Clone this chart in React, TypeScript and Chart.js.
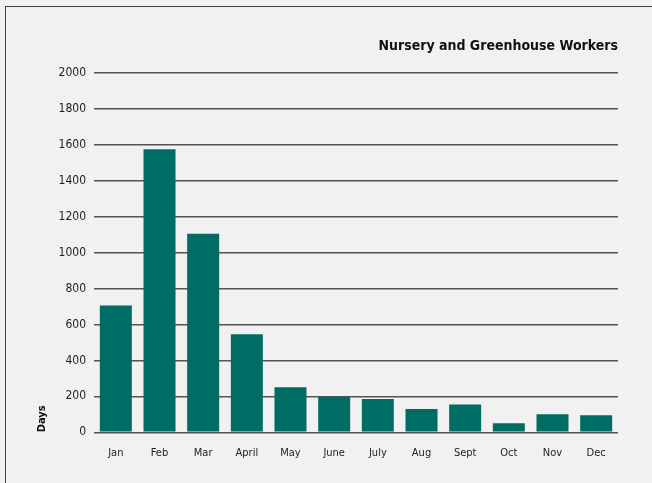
import React, { useEffect, useRef } from "react";
import { Chart, registerables } from "chart.js";

Chart.register(...registerables);

const months = ["Jan", "Feb", "Mar", "April", "May", "June", "July", "Aug", "Sept", "Oct", "Nov", "Dec"];
const days = [705, 1575, 1105, 545, 250, 198, 185, 130, 155, 50, 100, 95];
const yTicks = [0, 200, 400, 600, 800, 1000, 1200, 1400, 1600, 1800, 2000];
const chartTitle = "Nursery and Greenhouse Workers";
const yTitle = "Days";

const FONT = "'Liberation Sans Narrow', 'DejaVu Sans Condensed', 'Arial Narrow', sans-serif";

export default function App() {
  const ref = useRef<HTMLCanvasElement | null>(null);

  useEffect(() => {
    if (!ref.current) return;
    const chart = new Chart(ref.current, {
      type: "bar",
      data: {
        labels: months,
        datasets: [
          {
            label: yTitle,
            data: days,
            backgroundColor: "#006d65",
            borderWidth: 0,
            barPercentage: 0.733,
            categoryPercentage: 1,
          },
        ],
      },
      options: {
        responsive: false,
        animation: false,
        layout: { padding: { left: 0, right: 34, top: 0, bottom: 0 } },
        plugins: {
          legend: { display: false },
          tooltip: { enabled: false },
          title: {
            display: true,
            text: chartTitle,
            align: "end",
            color: "#111",
            font: { family: FONT, size: 14, weight: "bold" },
            padding: { top: 38, bottom: 18 },
          },
        },
        scales: {
          x: {
            grid: { display: false },
            border: { display: false },
            ticks: {
              color: "#222",
              font: { family: FONT, size: 11 },
              padding: 6,
              maxRotation: 0,
            },
            afterFit: (s: any) => {
              s.height = 50.7;
            },
          },
          y: {
            min: 0,
            max: 2000,
            afterBuildTicks: (s: any) => {
              s.ticks = yTicks.map((v) => ({ value: v }));
            },
            grid: { color: "#555", lineWidth: 1.6, drawTicks: false },
            border: { display: false },
            ticks: {
              color: "#222",
              font: { family: FONT, size: 12 },
              padding: 8,
              callback: (v: any) => String(v),
            },
            title: {
              display: true,
              text: yTitle,
              align: "start",
              color: "#111",
              font: { family: FONT, size: 11, weight: "bold" },
              padding: { top: 36, bottom: 0 },
            },
            afterFit: (s: any) => {
              s.width = 94;
            },
          },
        },
      },
    });
    return () => chart.destroy();
  }, []);

  return (
    <div
      style={{
        position: "fixed",
        left: 0,
        top: 0,
        width: 652,
        height: 483,
        background: "#f1f1f1",
        overflow: "hidden",
      }}
    >
      <div
        style={{
          position: "absolute",
          left: 5,
          top: 6,
          width: 700,
          height: 600,
          border: "1px solid #444",
          boxSizing: "border-box",
        }}
      />
      <canvas
        ref={ref}
        width={652}
        height={483}
        style={{ position: "absolute", left: 0, top: 0, width: 652, height: 483 }}
      />
    </div>
  );
}
